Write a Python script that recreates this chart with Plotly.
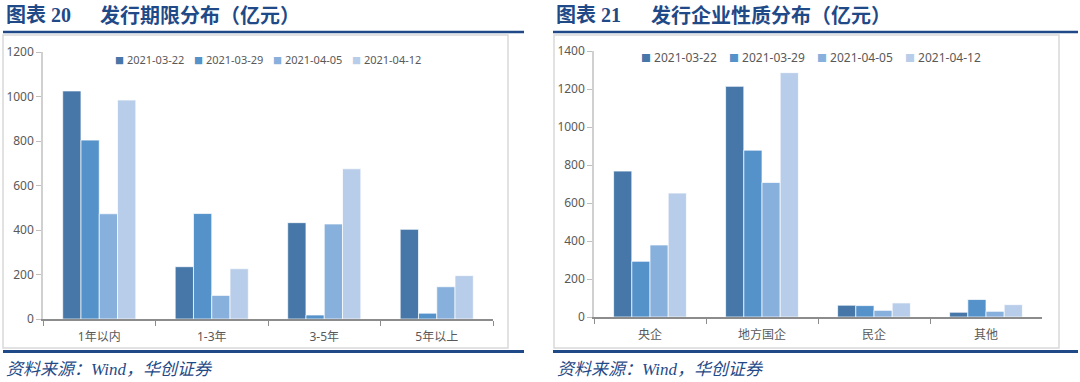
import plotly.graph_objects as go

# ---------------- data ----------------
dates = ["2021-03-22", "2021-03-29", "2021-04-05", "2021-04-12"]
colors = ["#4677A8", "#5592CA", "#87B0DC", "#B8CDE9"]

term_cats = ["1年以内", "1-3年", "3-5年", "5年以上"]
term_0322 = [1025, 235, 433, 403]
term_0329 = [804, 474, 18, 26]
term_0405 = [473, 106, 427, 145]
term_0412 = [984, 226, 675, 195]
term_series = [term_0322, term_0329, term_0405, term_0412]

ent_cats = ["央企", "地方国企", "民企", "其他"]
ent_0322 = [768, 1214, 62, 25]
ent_0329 = [293, 878, 60, 92]
ent_0405 = [379, 708, 35, 30]
ent_0412 = [652, 1286, 74, 65]
ent_series = [ent_0322, ent_0329, ent_0405, ent_0412]

left_yticks = [0, 200, 400, 600, 800, 1000, 1200]
right_yticks = [0, 200, 400, 600, 800, 1000, 1200, 1400]

W, H = 1080, 382
def px(x):
    return x / W
def py(y):
    return 1 - y / H

FONT = "Noto Sans, Noto Sans CJK SC, sans-serif"
CJK = "Noto Sans CJK SC, sans-serif"
SERIF_MIX = "Liberation Serif, Noto Sans CJK SC, serif"
TITLE_BLUE = "#1F4A87"
TICK_GRAY = "#595959"

fig = go.Figure()

for name, vals, col in zip(dates, term_series, colors):
    fig.add_trace(go.Bar(x=term_cats, y=vals, name=name, marker_color=col,
                         marker_line=dict(color="rgba(255,255,255,0.7)", width=1),
                         xaxis="x", yaxis="y", showlegend=False))
for name, vals, col in zip(dates, ent_series, colors):
    fig.add_trace(go.Bar(x=ent_cats, y=vals, name=name, marker_color=col,
                         marker_line=dict(color="rgba(255,255,255,0.7)", width=1),
                         xaxis="x2", yaxis="y2", showlegend=False))

# legend entries: small colour key placed right before the label, as in the original
for lg, xa, ya, ksize in [("legend", "x", "y", 9), ("legend2", "x2", "y2", 10)]:
    for name, col in zip(dates, colors):
        label = f'<span style="color:{col};font-size:{ksize}px">■</span> {name}'
        fig.add_trace(go.Scatter(x=[None], y=[None], mode="markers", name=label,
                                 marker=dict(size=1, color="rgba(0,0,0,0)"),
                                 xaxis=xa, yaxis=ya, legend=lg, hoverinfo="skip"))
    # invisible spacer entry so that the last label is not clipped
    fig.add_trace(go.Scatter(x=[None], y=[None], mode="markers", name=" ",
                             marker=dict(size=1, color="rgba(0,0,0,0)"),
                             xaxis=xa, yaxis=ya, legend=lg, hoverinfo="skip"))

axis_common = dict(showgrid=False, zeroline=False, automargin=False,
                   tickfont=dict(family=FONT, size=12, color=TICK_GRAY))

fig.update_layout(
    width=W, height=H,
    margin=dict(l=0, r=0, t=0, b=0, autoexpand=False),
    paper_bgcolor="white", plot_bgcolor="white",
    barmode="group", bargap=0.35, bargroupgap=0,
    xaxis=dict(domain=[px(43), px(493)], anchor="y", type="category",
               showline=True, linecolor="#8C8C8C", linewidth=1.5,
               ticks="outside", tickson="boundaries", ticklen=5, tickcolor="#8C8C8C",
               ticklabelstandoff=6, **axis_common),
    yaxis=dict(domain=[py(319), py(52)], anchor="x", range=[0, 1200],
               tickvals=left_yticks, showline=True, linecolor="#D0D0D0", linewidth=1.5,
               ticks="outside", ticklen=5, tickcolor="#BFBFBF", **axis_common),
    xaxis2=dict(domain=[px(594), px(1042)], anchor="y2", type="category",
                showline=True, linecolor="#8C8C8C", linewidth=1.5,
                ticks="outside", tickson="boundaries", ticklen=5, tickcolor="#8C8C8C",
                ticklabelstandoff=6, **axis_common),
    yaxis2=dict(domain=[py(317), py(51)], anchor="x2", range=[0, 1400],
                tickvals=right_yticks, showline=True, linecolor="#D0D0D0", linewidth=1.5,
                ticks="outside", ticklen=5, tickcolor="#BFBFBF", **axis_common),
    legend=dict(orientation="h", x=px(75), y=py(45), xanchor="left", yanchor="top",
                font=dict(family=FONT, size=11, color=TICK_GRAY), bgcolor="rgba(0,0,0,0)",
                itemwidth=30, tracegroupgap=0, entrywidth=34, entrywidthmode="pixels"),
    legend2=dict(orientation="h", x=px(601), y=py(43), xanchor="left", yanchor="top",
                 font=dict(family=FONT, size=12, color=TICK_GRAY), bgcolor="rgba(0,0,0,0)",
                 itemwidth=30, tracegroupgap=0, entrywidth=43, entrywidthmode="pixels"),
    showlegend=True,
)

shapes = []
# chart boxes
for x0, x1 in [(3, 508), (554, 1059)]:
    shapes.append(dict(type="rect", xref="paper", yref="paper",
                       x0=px(x0), x1=px(x1), y0=py(348), y1=py(35),
                       line=dict(color="#D9D9D9", width=1.5), layer="below"))
# top and bottom blue rules
for x0, x1 in [(3, 524), (553, 1078)]:
    shapes.append(dict(type="line", xref="paper", yref="paper",
                       x0=px(x0), x1=px(x1), y0=py(32), y1=py(32),
                       line=dict(color="#1F4A87", width=2.5)))
    shapes.append(dict(type="line", xref="paper", yref="paper",
                       x0=px(x0), x1=px(x1), y0=py(351.5), y1=py(351.5),
                       line=dict(color="#1F4A87", width=3)))
fig.update_layout(shapes=shapes)

ann = []
def add_text(x, y, text, size, color, family, xanchor="left"):
    ann.append(dict(xref="paper", yref="paper", x=px(x), y=py(y), text=text,
                    showarrow=False, xanchor=xanchor, yanchor="middle",
                    font=dict(size=size, color=color, family=family)))

add_text(4, 15, "<b>图表 20</b>", 20, TITLE_BLUE, SERIF_MIX)
add_text(98, 15, "<b>发行期限分布（亿元）</b>", 20, TITLE_BLUE, CJK)
add_text(554, 15, "<b>图表 21</b>", 20, TITLE_BLUE, SERIF_MIX)
add_text(649, 15, "<b>发行企业性质分布（亿元）</b>", 20, TITLE_BLUE, CJK)
add_text(4, 369, "<i>资料来源：Wind，华创证券</i>", 17, TITLE_BLUE, SERIF_MIX)
add_text(555, 369, "<i>资料来源：Wind，华创证券</i>", 17, TITLE_BLUE, SERIF_MIX)
fig.update_layout(annotations=ann)

fig.write_html("out.html", config={"displayModeBar": False},
               post_script="document.body.style.margin='0';document.body.style.overflow='hidden';")
